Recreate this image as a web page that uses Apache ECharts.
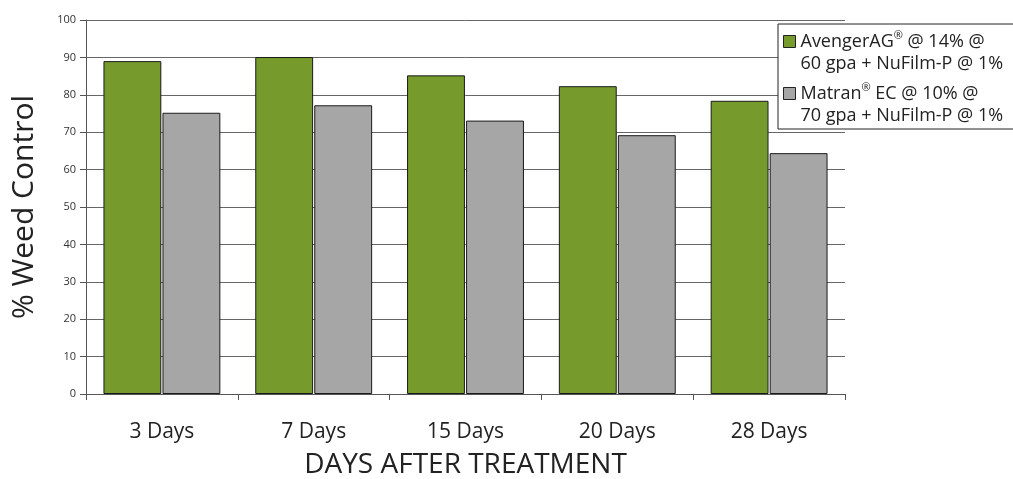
<!DOCTYPE html>
<html><head><meta charset="utf-8">
<script src="https://cdn.jsdelivr.net/npm/echarts@6/dist/echarts.min.js"></script>
<style>html,body{margin:0;padding:0;background:#fff}#c{width:1013px;height:479px}</style>
</head><body><div id="c"></div>
<script>
const categories = ['3 Days', '7 Days', '15 Days', '20 Days', '28 Days'];
const avengerValues = [89, 90.1, 85.2, 82.3, 78.4];
const matranValues = [75.2, 77.2, 73.1, 69.2, 64.4];
const yTicks = [0, 100, 10];
const seriesNames = ['AvengerAG® @ 14% @\n60 gpa + NuFilm-P @ 1%', 'Matran® EC @ 10% @\n70 gpa + NuFilm-P @ 1%'];

const FONT = 'Open Sans';
const chart = echarts.init(document.getElementById('c'));
chart.setOption({
  animation: false,
  grid: { left: 86, right: 168, top: 20, bottom: 85, outerBoundsMode: 'none', containLabel: false },
  legend: {
    left: 778, top: 24, orient: 'vertical',
    itemWidth: 12, itemHeight: 44, itemGap: 7,
    icon: 'path://M0,5L12,5L12,17L0,17Z M0,0 M0,44',
    backgroundColor: '#fff', borderColor: '#222', borderWidth: 1,
    padding: [6, 22, 2, 5],
    formatter: function (name) { return name.replace('®', '{sup|®}'); },
    textStyle: { fontFamily: FONT, fontSize: 18, color: '#222', lineHeight: 22,
      rich: { sup: { fontFamily: FONT, fontSize: 11, lineHeight: 12, verticalAlign: 'top', color: '#222' } } },
    itemStyle: { borderColor: '#222', borderWidth: 1 },
    data: seriesNames
  },
  xAxis: {
    type: 'category', data: categories,
    axisLine: { lineStyle: { color: '#555', width: 1 } },
    axisTick: { show: true, length: 6, lineStyle: { color: '#555' } },
    axisLabel: { fontFamily: FONT, fontSize: 21, color: '#222', margin: 28 },
    name: 'DAYS AFTER TREATMENT', nameLocation: 'middle', nameGap: 57,
    nameTextStyle: { fontFamily: FONT, fontSize: 28, color: '#222' }
  },
  yAxis: {
    type: 'value', min: yTicks[0], max: yTicks[1], interval: yTicks[2],
    axisLine: { show: true, lineStyle: { color: '#555' } },
    axisTick: { show: true, length: 6, lineStyle: { color: '#555' } },
    axisLabel: { fontFamily: FONT, fontSize: 11, color: '#333', margin: 10 },
    splitLine: { lineStyle: { color: '#666', width: 1 } },
    name: '% Weed Control', nameLocation: 'middle', nameGap: 47,
    nameTextStyle: { fontFamily: FONT, fontSize: 30, color: '#222' }
  },
  series: [
    { name: seriesNames[0], type: 'bar', data: avengerValues, barGap: '2%', barCategoryGap: '23%',
      itemStyle: { color: '#779a2c', borderColor: '#1a1a1a', borderWidth: 1 } },
    { name: seriesNames[1], type: 'bar', data: matranValues,
      itemStyle: { color: '#a6a6a6', borderColor: '#1a1a1a', borderWidth: 1 } }
  ]
});
</script></body></html>
